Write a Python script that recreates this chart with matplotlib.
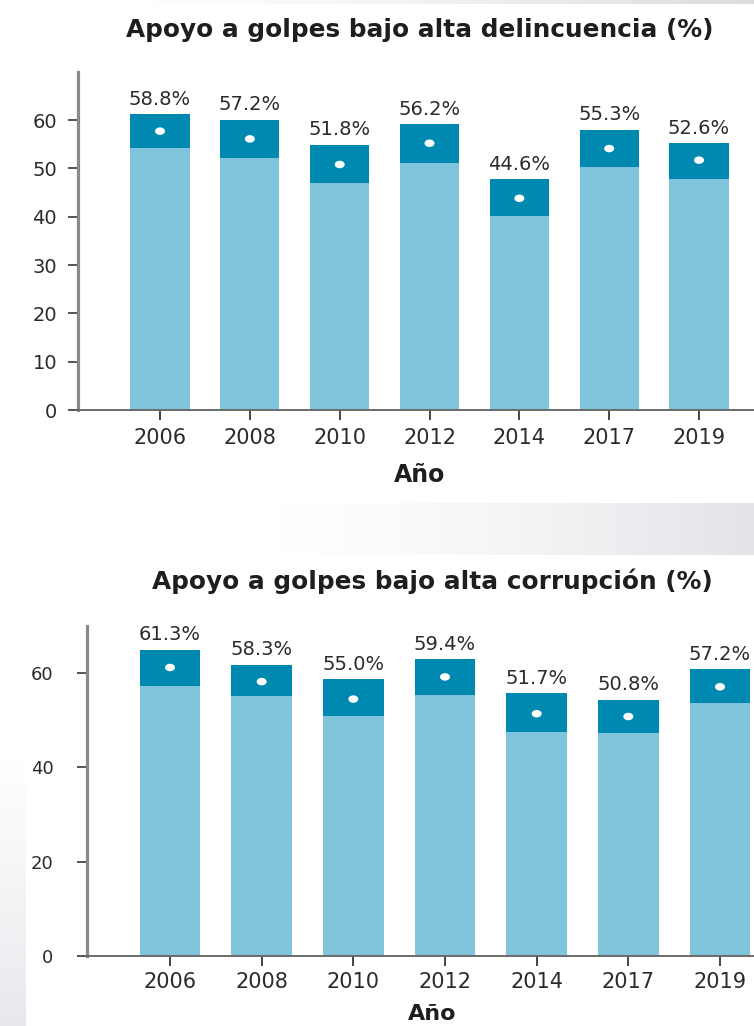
import numpy as np
import matplotlib
matplotlib.use("Agg")
import matplotlib.pyplot as plt
from matplotlib.colors import LinearSegmentedColormap
from matplotlib.patches import Ellipse

# ---------------- data ----------------
years = ['2006', '2008', '2010', '2012', '2014', '2017', '2019']

# Panel 1: Apoyo a golpes bajo alta delincuencia (%)
label_del = [58.8, 57.2, 51.8, 56.2, 44.6, 55.3, 52.6]
low_del = [54.3, 52.2, 47.0, 51.2, 40.1, 50.3, 47.9]
up_del = [61.2, 60.0, 54.8, 59.1, 47.7, 57.9, 55.2]
dot_del = [57.7, 56.1, 50.8, 55.2, 43.8, 54.1, 51.7]

# Panel 2: Apoyo a golpes bajo alta corrupción (%)
label_cor = [61.3, 58.3, 55.0, 59.4, 51.7, 50.8, 57.2]
low_cor = [57.2, 55.1, 50.9, 55.4, 47.5, 47.3, 53.6]
up_cor = [65.0, 61.8, 58.7, 62.9, 55.7, 54.4, 60.8]
dot_cor = [61.2, 58.2, 54.5, 59.2, 51.4, 50.8, 57.1]

yticks_del = [0, 10, 20, 30, 40, 50, 60]
yticks_cor = [0, 20, 40, 60]

# ---------------- style ----------------
LIGHT = '#7fc4da'
DARK = '#0089b0'
TXT = '#2b2b2b'
NUMFONT = 'DejaVu Sans'
TITLEFONT = 'DejaVu Sans'

W, H = 754, 1026
fig = plt.figure(figsize=(W / 100, H / 100), dpi=100)
fig.patch.set_facecolor('white')


def fx(px):
    return px / W


def fy(py):
    return 1 - py / H


# decorative gray gradients (background shading of the source image)
def gradient(rect, direction, color):
    ax = fig.add_axes(rect, zorder=-5)
    cmap = LinearSegmentedColormap.from_list('g', ['#ffffff', color])
    g = np.linspace(0, 1, 256)
    if direction == 'h':
        img = g[None, :] ** 1.4
    else:
        img = g[:, None]
    ax.imshow(img, aspect='auto', cmap=cmap, vmin=0, vmax=1,
              origin='upper' if direction == 'v' else 'lower',
              interpolation='bilinear')
    ax.set_axis_off()


gradient([fx(270), fy(555), fx(W - 270), (555 - 503) / H], 'h', '#e3e4e8')
gradient([0, fy(1026), fx(26), (1026 - 760) / H], 'v', '#e8e9ed')
gradient([fx(100), fy(4), fx(W - 100), 4 / H], 'h', '#dcdcdc')


def panel(rect, xlim, low, up, dot, labels, yticks, ylab_pad, xlab_pad, ytick_size):
    ax = fig.add_axes(rect)
    x = np.arange(len(years))
    wbar = 0.66
    low = np.array(low)
    up = np.array(up)
    ax.bar(x, low, width=wbar, color=LIGHT, zorder=2)
    ax.bar(x, up - low, bottom=low, width=wbar, color=DARK, zorder=2)
    # white dots (point estimate)
    xr = xlim[1] - xlim[0]
    pxu = (rect[2] * W) / xr
    ylim = (0, 70)
    pyu = (rect[3] * H) / (ylim[1] - ylim[0])
    for xi, d in zip(x, dot):
        ax.add_patch(Ellipse((xi, d), width=10 / pxu, height=7.5 / pyu,
                             facecolor='white', edgecolor='none', zorder=4))
    for xi, u, lab in zip(x, up, labels):
        ax.annotate(f'{lab:.1f}%', (xi, u), xytext=(0, 7), textcoords='offset points',
                    ha='center', va='baseline', fontsize=14, color=TXT,
                    family=NUMFONT, zorder=5)
    ax.set_xlim(*xlim)
    ax.set_ylim(*ylim)
    ax.set_xticks(x)
    ax.set_xticklabels(years, fontsize=15, family=NUMFONT, color=TXT)
    ax.set_yticks(yticks)
    ax.set_yticklabels([str(t) for t in yticks], fontsize=ytick_size, family=NUMFONT, color=TXT)
    for s in ['top', 'right']:
        ax.spines[s].set_visible(False)
    ax.spines['left'].set_color('#8a8a8a')
    ax.spines['left'].set_linewidth(2.3)
    ax.spines['bottom'].set_color('#6a6a6a')
    ax.spines['bottom'].set_linewidth(1.4)
    ax.tick_params(axis='y', length=7, width=1.4, color='#555555', pad=ylab_pad)
    ax.tick_params(axis='x', length=7, width=1.4, color='#444444', pad=xlab_pad)
    ax.set_facecolor('none')
    return ax


# top panel
ax1 = panel([fx(78), fy(410), fx(W - 78), (410 - 71.7) / H], (-0.913, 6.612),
            low_del, up_del, dot_del, label_del, yticks_del, 8, 6, 14)
# bottom panel
ax2 = panel([fx(86.7), fy(956), fx(W - 86.7), (956 - 626) / H], (-0.909, 6.371),
            low_cor, up_cor, dot_cor, label_cor, yticks_cor, 17, 4.5, 13)

fig.text(fx(420), fy(30), 'Apoyo a golpes bajo alta delincuencia (%)', ha='center', va='center',
         fontsize=17.8, fontweight='bold', family=TITLEFONT, color='#1e1e1e')
fig.text(fx(432), fy(581), 'Apoyo a golpes bajo alta corrupción (%)', ha='center', va='center',
         fontsize=17.8, fontweight='bold', family=TITLEFONT, color='#1e1e1e')
fig.text(fx(420), fy(475), 'Año', ha='center', va='center',
         fontsize=17, fontweight='bold', family=NUMFONT, color='#1e1e1e')
fig.text(fx(432), fy(1014), 'Año', ha='center', va='center',
         fontsize=16, fontweight='bold', family=NUMFONT, color='#1e1e1e')

fig.savefig('out.png', dpi=100, facecolor='white')
